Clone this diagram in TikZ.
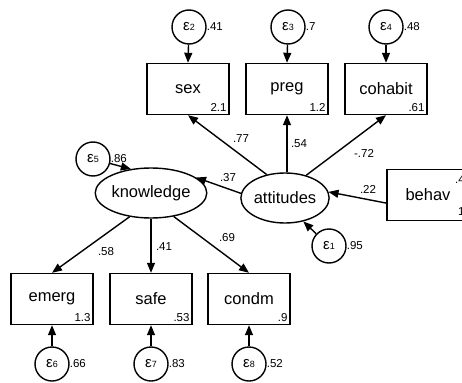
\documentclass[tikz,border=0pt]{standalone}
\usepackage{fontspec}
\setmainfont{Liberation Sans}
\usetikzlibrary{shapes.geometric,arrows.meta}

\tikzset{
	obsvar/.style={draw, line width=1.4pt, minimum width=82pt, minimum height=51pt, inner sep=0pt, font=\fontsize{16.5}{18}\selectfont},
	latvar/.style={draw, ellipse, line width=1.4pt, minimum width=80pt, minimum height=50pt, inner sep=0pt, font=\fontsize{16.5}{18}\selectfont},
	errvar/.style={draw, circle, line width=1.4pt, minimum size=34pt, inner sep=0pt},
	coef/.style={font=\fontsize{11.5}{13}\selectfont, inner sep=0pt},
	corner/.style={font=\fontsize{11.5}{13}\selectfont, inner sep=3pt},
	path arr/.style={line width=1.4pt, -{Triangle[length=10pt,width=8pt]}},
}
\newcommand{\eps}[1]{{\fontsize{15}{16}\selectfont ε}{\fontsize{9}{10}\selectfont #1}}

\begin{document}
\begin{tikzpicture}[x=1pt, y=-1pt]
	\useasboundingbox (0,0) rectangle (462,382);

	% latent variables
	\node[latvar] (know) at (151,193) {knowledge};
	\node[latvar] (att) at (285,198) {attitudes};

	% observed variables
	\node[obsvar] (sex) at (188,89) {sex};
	\node[obsvar] (preg) at (287,89) {preg};
	\node[obsvar] (cohab) at (386,89) {cohabit};
	\node[obsvar] (behav) at (428,195) {behav};
	\node[obsvar] (emerg) at (52,299) {emerg};
	\node[obsvar] (safe) at (151,299) {safe};
	\node[obsvar] (condm) at (249,299) {condm};

	% variances in the boxes
	\node[corner, anchor=south east] at (sex.south east) {2.1};
	\node[corner, anchor=south east] at (preg.south east) {1.2};
	\node[corner, anchor=south east] at (cohab.south east) {.61};
	\node[corner, anchor=south east] at (emerg.south east) {1.3};
	\node[corner, anchor=south east] at (safe.south east) {.53};
	\node[corner, anchor=south east] at (condm.south east) {.9};
	\node[coef, anchor=north west] at (455,175) {.4};
	\node[coef, anchor=south west] at (458,216) {1};

	% error terms
	\node[errvar] (e1) at (329,246) {\eps{1}};
	\node[errvar] (e2) at (189,27) {\eps{2}};
	\node[errvar] (e3) at (288,27) {\eps{3}};
	\node[errvar] (e4) at (386,27) {\eps{4}};
	\node[errvar] (e5) at (93,159) {\eps{5}};
	\node[errvar] (e6) at (52,364) {\eps{6}};
	\node[errvar] (e7) at (151,364) {\eps{7}};
	\node[errvar] (e8) at (249,364) {\eps{8}};

	\node[coef, anchor=west] at (e1.east) {.95};
	\node[coef, anchor=west] at (e2.east) {.41};
	\node[coef, anchor=west] at (e3.east) {.7};
	\node[coef, anchor=west] at (e4.east) {.48};
	\node[coef, anchor=west] at (e5.east) {.86};
	\node[coef, anchor=west] at (e6.east) {.66};
	\node[coef, anchor=west] at (e7.east) {.83};
	\node[coef, anchor=west] at (e8.east) {.52};

	% paths
	\draw[path arr] (att.128) -- (sex.south);
	\draw[path arr] (att.north -| preg.south) -- (preg.south);
	\draw[path arr] (att.47) -- (cohab.south);
	\draw[path arr] (att.174) -- (know.19);
	\draw[path arr] (behav.191) -- (att.8);
	\draw[path arr] (know.228) -- (emerg.north);
	\draw[path arr] (know.south) -- (safe.north);
	\draw[path arr] (know.314) -- (condm.north);

	\draw[path arr] (e1) -- (att.308);
	\draw[path arr] (e2) -- (sex.north);
	\draw[path arr] (e3) -- (preg.north);
	\draw[path arr] (e4) -- (cohab.north);
	\draw[path arr] (e5) -- (know.130);
	\draw[path arr] (e6) -- (emerg.south);
	\draw[path arr] (e7) -- (safe.south);
	\draw[path arr] (e8) -- (condm.south);

	% path coefficients
	\node[coef] (c1) at (241,139) {.77};
	\node[coef] (c2) at (299,144) {.54};
	\node[coef] (c3) at (364,153) {-.72};
	\node[coef] (c4) at (228,178) {.37};
	\node[coef] (c5) at (368,189) {.22};
	\node[coef] (c6) at (106,252) {.58};
	\node[coef] (c7) at (164,247) {.41};
	\node[coef] (c8) at (227,238) {.69};
\end{tikzpicture}
\end{document}
